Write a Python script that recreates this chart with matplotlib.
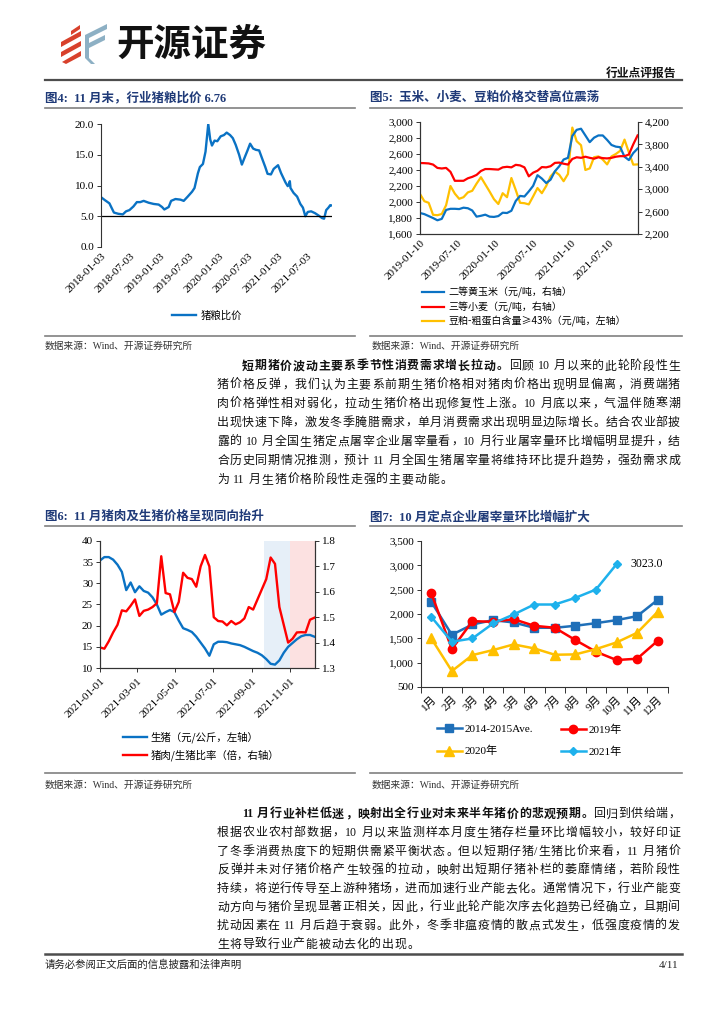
import re
import matplotlib
matplotlib.use('Agg')
import matplotlib.pyplot as plt
import matplotlib.ticker as mticker
from matplotlib.transforms import IdentityTransform
from matplotlib.patches import Polygon
from matplotlib.lines import Line2D
import pandas as pd

W, H = 724, 1024
FAM = ['Liberation Serif', 'Noto Sans CJK SC', 'DejaVu Sans']
CJK = ['Noto Sans CJK SC', 'DejaVu Sans']
plt.rcParams['font.family'] = FAM
plt.rcParams['axes.unicode_minus'] = False

# ---------------- data ----------------
# Fig 4: pig-grain price ratio
c4_dates = ['2018-01-03', '2018-01-28', '2018-02-24', '2018-03-24', '2018-04-20', '2018-05-18',
            '2018-06-07', '2018-06-28', '2018-07-23', '2018-08-13', '2018-09-03', '2018-09-24',
            '2018-10-25', '2018-11-25', '2018-12-26',
            '2019-01-16', '2019-01-30', '2019-02-26', '2019-03-13', '2019-04-09', '2019-05-10',
            '2019-05-30', '2019-06-24', '2019-07-21', '2019-08-05', '2019-08-26', '2019-09-07',
            '2019-09-26', '2019-10-12', '2019-10-29', '2019-11-10', '2019-11-21', '2019-12-07',
            '2019-12-24',
            '2020-01-14', '2020-02-03', '2020-02-20', '2020-03-12', '2020-03-29', '2020-04-16',
            '2020-05-07', '2020-05-24', '2020-06-11', '2020-06-28', '2020-07-14', '2020-08-02',
            '2020-08-19', '2020-09-08', '2020-09-29', '2020-10-16', '2020-10-30', '2020-11-20',
            '2020-12-07',
            '2021-01-03', '2021-01-22', '2021-02-18', '2021-03-04', '2021-03-10', '2021-03-17',
            '2021-03-21', '2021-04-09', '2021-05-01', '2021-05-21', '2021-06-06', '2021-06-21',
            '2021-07-06', '2021-07-27', '2021-08-20', '2021-09-12', '2021-10-03', '2021-10-15',
            '2021-10-28', '2021-11-11', '2021-11-22', '2021-11-30']
c4_ratio = [8.1, 7.6, 7.1, 5.6, 5.4, 5.3, 5.8, 6.0, 6.6, 7.3, 7.3, 7.5, 7.2, 7.0, 6.9,
            6.5, 6.1, 6.5, 7.5, 7.8, 7.7, 7.5, 8.2, 9.0, 9.6, 12.0, 13.0, 13.5, 15.5, 20.0,
            17.5, 16.5, 17.3, 17.2,
            18.0, 18.2, 18.6, 18.2, 17.7, 16.6, 15.0, 13.4, 14.6, 15.7, 16.8, 16.0, 15.8,
            15.7, 14.2, 13.0, 11.9, 11.8, 12.7,
            13.3, 12.0, 10.5, 9.9, 10.1, 10.7, 9.6, 8.8, 8.2, 7.0, 6.4, 5.0, 5.7, 5.8, 5.5,
            5.1, 4.7, 4.6, 6.0, 6.4, 6.8, 6.76]
c4_ticks = ['2018-01-03', '2018-07-03', '2019-01-03', '2019-07-03', '2020-01-03',
            '2020-07-03', '2021-01-03', '2021-07-03']

# Fig 5: grain prices, sampled every 3 weeks from 2019-01-10
c5_start = '2019-01-10'
c5_corn = [2575, 2555, 2520, 2485, 2445, 2470, 2630, 2650, 2650, 2645,
           2670, 2660, 2620, 2510, 2525, 2545, 2510, 2505, 2520, 2580,
           2575, 2615, 2790, 2880, 2870, 2960, 3060, 3250, 3190, 3110,
           3170, 3320, 3410, 3530, 3560, 3950, 4060, 4080, 3960, 3840,
           3920, 3960, 3960, 3880, 3790, 3760, 3750, 3580, 3520, 3645, 3725]
c5_wheat = [3468, 3465, 3460, 3440, 3380, 3370, 3380, 3310, 3150, 3150,
            3150, 3195, 3220, 3255, 3325, 3360, 3360, 3355, 3350, 3390,
            3400, 3390, 3435, 3425, 3390, 3230, 3295, 3330, 3395, 3390,
            3410, 3470, 3475, 3455, 3440, 3540, 3570, 3560, 3580, 3560,
            3545, 3570, 3555, 3550, 3560, 3580, 3590, 3590, 3620, 3800, 3960]
c5_soy = [2100, 2010, 1990, 1840, 1835, 1850, 1960, 2200, 2105, 2040,
          2060, 2120, 2140, 2230, 2310, 2220, 2130, 2035, 1975, 2110,
          2060, 2300, 2150, 1990, 1985, 1970, 2070, 2175, 2110, 2200,
          2320, 2380, 2340, 2260, 2350, 2930, 2760, 2710, 2400, 2420,
          2560, 2570, 2530, 2470, 2570, 2600, 2640, 2780, 2620, 2467, 2470]
c5_ticks = ['2019-01-10', '2019-07-10', '2020-01-10', '2020-07-10', '2021-01-10', '2021-07-10']
c5_labels = ['二等黄玉米（元/吨，右轴）', '三等小麦（元/吨，右轴）', '豆粕-粗蛋白含量≥43%（元/吨，左轴）']

# Fig 6: weekly from 2021-01-01
c6_start = '2021-01-01'
c6_hog = [35.4, 36.2, 36.2, 35.6, 34.4, 32.7, 28.4, 30.2, 27.9, 29.3,
          28.2, 27.8, 26.7, 25.0, 22.6, 23.2, 23.7, 23.2, 21.2, 19.4,
          19.0, 18.5, 17.4, 16.0, 14.6, 12.9, 15.6, 16.2, 16.2, 16.1,
          15.8, 15.6, 15.4, 15.0, 14.5, 14.0, 13.6, 13.0, 12.1, 11.0,
          10.8, 11.8, 13.6, 15.0, 15.9, 16.8, 17.5, 17.8, 17.8, 17.4]
c6_ratio = [1.381, 1.376, 1.405, 1.440, 1.470, 1.527, 1.523, 1.545, 1.570, 1.505,
            1.525, 1.530, 1.540, 1.555, 1.740, 1.595, 1.590, 1.520, 1.560, 1.675,
            1.655, 1.650, 1.620, 1.700, 1.745, 1.700, 1.500, 1.485, 1.483, 1.468,
            1.485, 1.472, 1.480, 1.495, 1.540, 1.530, 1.570, 1.610, 1.650, 1.735,
            1.710, 1.540, 1.470, 1.400, 1.415, 1.440, 1.441, 1.440, 1.490, 1.498]
c6_ticks = ['2021-01-01', '2021-03-01', '2021-05-01', '2021-07-01', '2021-09-01', '2021-11-01']
c6_shade_blue = ('2021-09-21', '2021-11-01')
c6_shade_red = ('2021-11-01', '2021-12-11')
c6_labels = ['生猪（元/公斤，左轴）', '猪肉/生猪比率（倍，右轴）']

# Fig 7: monthly slaughter volume
c7_months = ['1月', '2月', '3月', '4月', '5月', '6月', '7月', '8月', '9月', '10月', '11月', '12月']
c7_ave = [2250, 1573, 1785, 1874, 1826, 1717, 1717, 1758, 1812, 1874, 1956, 2291]
c7_2019 = [2428, 1279, 1853, 1840, 1894, 1758, 1717, 1464, 1225, 1054, 1081, 1450]
c7_2020 = [1498, 828, 1156, 1259, 1375, 1293, 1163, 1170, 1279, 1416, 1614, 2045]
c7_2021 = [1942, 1430, 1498, 1806, 1990, 2195, 2195, 2332, 2503, 3023]
c7_labels = ['2014-2015Ave.', '2019年', '2020年', '2021年']

para1_bold = '短期猪价波动主要系季节性消费需求增长拉动。'
para1 = ['回顾 10 月以来的此轮阶段性生',
         '猪价格反弹，我们认为主要系前期生猪价格相对猪肉价格出现明显偏离，消费端猪',
         '肉价格弹性相对弱化，拉动生猪价格出现修复性上涨。10 月底以来，气温伴随寒潮',
         '出现快速下降，激发冬季腌腊需求，单月消费需求出现明显边际增长。结合农业部披',
         '露的 10 月全国生猪定点屠宰企业屠宰量看，10 月行业屠宰量环比增幅明显提升，结',
         '合历史同期情况推测，预计 11 月全国生猪屠宰量将维持环比提升趋势，强劲需求成',
         '为 11 月生猪价格阶段性走强的主要动能。']
para2_bold = '11 月行业补栏低迷，映射出全行业对未来半年猪价的悲观预期。'
para2 = ['回归到供给端，',
         '根据农业农村部数据，10 月以来监测样本月度生猪存栏量环比增幅较小，较好印证',
         '了冬季消费热度下的短期供需紧平衡状态。但以短期仔猪/生猪比价来看，11 月猪价',
         '反弹并未对仔猪价格产生较强的拉动，映射出短期仔猪补栏的萎靡情绪，若阶段性',
         '持续，将逆行传导至上游种猪场，进而加速行业产能去化。通常情况下，行业产能变',
         '动方向与猪价呈现显著正相关，因此，行业此轮产能次序去化趋势已经确立，且期间',
         '扰动因素在 11 月后趋于衰弱。此外，冬季非瘟疫情的散点式发生，低强度疫情的发',
         '生将导致行业产能被动去化的出现。']

# ---------------- figure ----------------
fig = plt.figure(figsize=(7.24, 10.24), dpi=100)
renderer = fig.canvas.get_renderer()
NAVY = '#1F3A78'
BLUE = '#0A72C4'
RED = '#FF0000'
YEL = '#FFC000'


def fx(x):
    return x / W


def fy(y):
    return 1 - y / H


def ax_px(l, t, r, b):
    return fig.add_axes([fx(l), fy(b), (r - l) / W, (b - t) / H])


def txt(x, y, s, **kw):
    return fig.text(fx(x), fy(y), s, **kw)


def hline(x0, x1, y, lw, color):
    fig.add_artist(Line2D([fx(x0), fx(x1)], [fy(y), fy(y)], transform=fig.transFigure,
                          lw=lw, color=color))


def poly(pts, color, ox=0):
    fig.add_artist(Polygon([(fx(a + ox), fy(b)) for a, b in pts], closed=True,
                           transform=fig.transFigure, facecolor=color, edgecolor='none'))


# ---- header / logo ----
ICON_R = '#D8412C'
ICON_B = '#8DB0C4'
OX = 9
poly([(62, 31), (71, 25), (71, 29), (62, 35)], ICON_R, OX)
poly([(52, 42), (72, 31), (72, 36), (52, 47)], ICON_R, OX)
poly([(52, 52), (72, 41), (72, 46), (52, 57)], ICON_R, OX)
poly([(53, 62), (72, 51), (72, 56), (57, 64)], ICON_R, OX)
poly([(76, 35), (98, 24), (98, 29), (76, 40)], ICON_B, OX)
poly([(76, 45), (96, 35), (96, 40), (76, 50)], ICON_B, OX)
poly([(76, 35), (80, 35), (80, 58), (76, 58)], ICON_B, OX)
poly([(76, 58), (80, 58), (86, 64), (82, 64)], ICON_B, OX)
txt(116, 44, '开源证券', fontsize=27, fontweight='bold', family=CJK, color='#111111',
    ha='left', va='center')
txt(676, 73, '行业点评报告', fontsize=8.5, fontweight='bold', family=CJK, ha='right',
    va='center', color='#111111')
hline(45, 682, 80, 1.6, '#4d4d4d')

# ---- titles / rules ----
TKW = dict(fontsize=9, fontweight='bold', color=NAVY, ha='left', va='center', family=FAM)
txt(45, 98, '图4:  11 月末，行业猪粮比价 6.76', **TKW)
txt(370, 98, '图5:  玉米、小麦、豆粕价格交替高位震荡', **TKW)
txt(45, 517, '图6:  11 月猪肉及生猪价格呈现同向抬升', **TKW)
txt(370, 517, '图7:  10 月定点企业屠宰量环比增幅扩大', **TKW)
for yy in (108, 526, 336, 773):
    hline(45, 355, yy, 1.2, '#808080')
    hline(370, 682, yy, 1.2, '#808080')
SKW = dict(fontsize=7, color='#333333', ha='left', va='center', family=FAM)
for xx in (45, 372):
    txt(xx, 346, '数据来源：Wind、开源证券研究所', **SKW)
    txt(xx, 785, '数据来源：Wind、开源证券研究所', **SKW)

# ---- footer ----
hline(45, 682, 954, 1.8, '#4d4d4d')
txt(45, 965, '请务必参阅正文后面的信息披露和法律声明', fontsize=7.5, color='#222222',
    ha='left', va='center', family=FAM)
txt(678, 965, '4/11', fontsize=8, color='#222222', ha='right', va='center', family=FAM)

TICKFS = 8


def style_ticks(ax):
    for lab in ax.get_xticklabels() + ax.get_yticklabels():
        lab.set_fontsize(TICKFS)


# ---------------- Fig 4 ----------------
ax4 = ax_px(101, 124, 332, 247)
d4 = pd.to_datetime(c4_dates)
ax4.plot(d4, c4_ratio, color=BLUE, lw=1.7, label='猪粮比价', solid_joinstyle='round')
ax4.axhline(5, color='black', lw=0.9)
ax4.set_ylim(0, 20)
ax4.set_yticks([0, 5, 10, 15, 20])
ax4.yaxis.set_major_formatter(mticker.FormatStrFormatter('%.1f'))
ax4.set_xlim(pd.Timestamp('2018-01-03'), pd.Timestamp('2021-12-03'))
ax4.set_xticks(pd.to_datetime(c4_ticks))
ax4.set_xticklabels(c4_ticks, rotation=45, ha='right', rotation_mode='anchor')
for s in ('top', 'right', 'bottom'):
    ax4.spines[s].set_visible(False)
ax4.spines['left'].set_color('#333333')
ax4.tick_params(axis='x', length=0, pad=3)
ax4.tick_params(axis='y', length=3, width=0.7, color='#333333', pad=2)
style_ticks(ax4)
ax4.legend(loc='center', bbox_to_anchor=(fx(207), fy(316)), bbox_transform=fig.transFigure,
           frameon=False, handlelength=2.3, handletextpad=0.5,
           prop={'family': CJK, 'size': 7.5})

# ---------------- Fig 5 ----------------
ax5 = ax_px(420, 122, 638, 234)
ax5r = ax5.twinx()
d5 = pd.date_range(c5_start, periods=len(c5_corn), freq='21D')
l_soy, = ax5.plot(d5, c5_soy, color=YEL, lw=1.6)
l_corn, = ax5r.plot(d5, c5_corn, color=BLUE, lw=1.6)
l_wheat, = ax5r.plot(d5, c5_wheat, color=RED, lw=1.6)
ax5.set_ylim(1600, 3000)
ax5.set_yticks(range(1600, 3001, 200))
ax5r.set_ylim(2200, 4200)
ax5r.set_yticks(range(2200, 4201, 400))
fmt = mticker.FuncFormatter(lambda v, p: f'{int(v):,}')
ax5.yaxis.set_major_formatter(fmt)
ax5r.yaxis.set_major_formatter(fmt)
ax5.set_xlim(pd.Timestamp('2019-01-10'), pd.Timestamp('2021-11-27'))
ax5.set_xticks(pd.to_datetime(c5_ticks))
ax5.set_xticklabels(c5_ticks, rotation=45, ha='right', rotation_mode='anchor')
for a in (ax5, ax5r):
    a.spines['top'].set_visible(False)
    for s in ('left', 'right', 'bottom'):
        a.spines[s].set_color('#333333')
    a.tick_params(length=3, width=0.7, color='#333333', pad=2)
ax5.tick_params(axis='x', length=0, pad=3)
style_ticks(ax5)
style_ticks(ax5r)
fig.legend([l_corn, l_wheat, l_soy], c5_labels, loc='center left',
           bbox_to_anchor=(fx(417), fy(307)), frameon=False, borderpad=0,
           handlelength=2.2, handletextpad=0.4, labelspacing=0.32,
           prop={'family': CJK, 'size': 7.2})

# ---------------- Fig 6 ----------------
ax6 = ax_px(100, 541, 315, 668)
ax6r = ax6.twinx()
d6 = pd.date_range(c6_start, periods=len(c6_hog), freq='7D')
ax6.axvspan(pd.Timestamp(c6_shade_blue[0]), pd.Timestamp(c6_shade_blue[1]),
            color='#E6EFF8', lw=0, zorder=0)
ax6.axvspan(pd.Timestamp(c6_shade_red[0]), pd.Timestamp(c6_shade_red[1]),
            color='#FCE1E1', lw=0, zorder=0)
l_hog, = ax6.plot(d6, c6_hog, color=BLUE, lw=1.7)
l_rat, = ax6r.plot(d6, c6_ratio, color=RED, lw=1.7)
ax6.set_ylim(10, 40)
ax6.set_yticks(range(10, 41, 5))
ax6r.set_ylim(1.3, 1.8)
ax6r.set_yticks([1.3, 1.4, 1.5, 1.6, 1.7, 1.8])
ax6r.yaxis.set_major_formatter(mticker.FormatStrFormatter('%.1f'))
ax6.set_xlim(pd.Timestamp('2021-01-01'), pd.Timestamp('2021-12-11'))
ax6.set_xticks(pd.to_datetime(c6_ticks))
ax6.set_xticklabels(c6_ticks, rotation=45, ha='right', rotation_mode='anchor')
for a in (ax6, ax6r):
    a.spines['top'].set_visible(False)
    for s in ('left', 'right', 'bottom'):
        a.spines[s].set_color('#333333')
    a.tick_params(length=3, width=0.7, color='#333333', pad=2)
ax6.tick_params(axis='x', length=3, pad=3)
style_ticks(ax6)
style_ticks(ax6r)
fig.legend([l_hog, l_rat], c6_labels, loc='center left',
           bbox_to_anchor=(fx(118), fy(746.5)), frameon=False, borderpad=0,
           handlelength=2.3, handletextpad=0.3, labelspacing=0.6,
           prop={'family': CJK, 'size': 7.5})

# ---------------- Fig 7 ----------------
ax7 = ax_px(421, 541, 668, 687)
xs = range(len(c7_months))
l_ave, = ax7.plot(xs, c7_ave, color='#1F6FB8', lw=1.8, marker='s', ms=5.5)
l_19, = ax7.plot(xs, c7_2019, color=RED, lw=1.8, marker='o', ms=6)
l_20, = ax7.plot(xs, c7_2020, color=YEL, lw=1.8, marker='^', ms=6.5)
l_21, = ax7.plot(range(len(c7_2021)), c7_2021, color='#1EB1EC', lw=1.8, marker='D', ms=4.2)
ax7.annotate(f'{c7_2021[-1]:.1f}', xy=(len(c7_2021) - 1, c7_2021[-1]), xytext=(10, 0),
             textcoords='offset points', ha='left', va='center', fontsize=8.5)
ax7.set_xlim(-0.5, len(c7_months) - 0.5)
ax7.set_ylim(500, 3500)
ax7.set_yticks(range(500, 3501, 500))
ax7.yaxis.set_major_formatter(fmt)
ax7.set_xticks(list(xs))
ax7.set_xticklabels(c7_months, rotation=45, ha='right', rotation_mode='anchor')
ax7.set_xticks([i - 0.5 for i in range(len(c7_months) + 1)], minor=True)
ax7.tick_params(axis='x', which='major', length=0, pad=5)
ax7.tick_params(axis='x', which='minor', length=4, width=0.7, color='#333333')
ax7.tick_params(axis='y', length=3, width=0.7, color='#333333', pad=2)
for s in ('top', 'right'):
    ax7.spines[s].set_visible(False)
for s in ('left', 'bottom'):
    ax7.spines[s].set_color('#333333')
style_ticks(ax7)
LKW = dict(loc='center left', frameon=False, borderpad=0, handlelength=2.3,
           handletextpad=0.2, labelspacing=1.05, prop={'family': FAM, 'size': 8})
fig.legend([l_ave, l_20], [c7_labels[0], c7_labels[2]], bbox_to_anchor=(fx(431), fy(740.5)), **LKW)
fig.legend([l_19, l_21], [c7_labels[1], c7_labels[3]], bbox_to_anchor=(fx(555), fy(740.5)), **LKW)

# ---------------- body text (justified) ----------------
BFS = 8.6
EM = BFS * 100 / 72
PUNCT = set('，。、：；')
IDT = IdentityTransform()
BODY_W = 'light'


def measure(s, bold):
    t = fig.text(0, 0, s, fontsize=BFS, fontweight='bold' if bold else BODY_W,
                 family=FAM, transform=IDT)
    w = t.get_window_extent(renderer).width
    t.remove()
    return w


def tokens(segs):
    out = []
    sp = 0
    for s, bold in segs:
        for m in re.findall(r'[A-Za-z0-9.%/\-]+| +|.', s):
            if m.isspace():
                sp += 1
                continue
            cjk = not m.isascii()
            w = EM if cjk else measure(m, bold)
            out.append((m, bold, w, cjk, sp))
            sp = 0
    return out


def draw_line(x0, x1, yc, segs, extra=None):
    toks = tokens(segs)
    spw = EM * 0.3
    natural = sum(t[2] for t in toks) + sum(t[4] for t in toks) * spw
    if extra is None:
        extra = (x1 - x0 - natural) / max(len(toks) - 1, 1)
    x = x0
    ybase = H - (yc + 0.37 * EM)
    for m, bold, w, cjk, sp in toks:
        x += sp * spw
        kw = dict(fontsize=BFS, fontweight='bold' if bold else BODY_W, family=FAM,
                  transform=IDT, va='baseline', color='#111111')
        if cjk and m in PUNCT:
            fig.text(x + 0.06 * EM, ybase, m, ha='left', **kw)
        elif cjk:
            fig.text(x + w / 2, ybase, m, ha='center', **kw)
        else:
            fig.text(x, ybase, m, ha='left', **kw)
        x += w + extra
    return extra


def paragraph(bold, lines, y0, dy, x0=217, x1=680, indent=25):
    extras = []
    n = len(lines)
    for i, line in enumerate(lines):
        segs = [(bold, True), (line, False)] if i == 0 else [(line, False)]
        xs0 = x0 + indent if i == 0 else x0
        yc = y0 + i * dy
        if i < n - 1:
            extras.append(draw_line(xs0, x1, yc, segs))
        else:
            draw_line(xs0, x1, yc, segs, extra=sum(extras) / len(extras))


paragraph(para1_bold, para1, 365, 18.9)
paragraph(para2_bold, para2, 813, 18.6)

fig.savefig('out.png', dpi=100)
